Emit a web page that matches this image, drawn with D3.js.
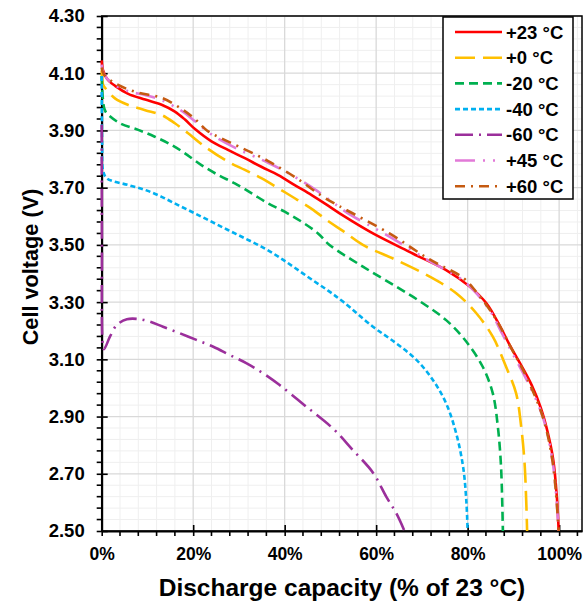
<!DOCTYPE html>
<html>
<head>
<meta charset="utf-8">
<script src="https://cdn.jsdelivr.net/npm/d3@7"></script>
<style>
  body { margin: 0; background: #fff; }
  svg { display: block; font-family: "Liberation Sans", Arial, sans-serif; font-weight: bold; }
</style>
</head>
<body>
<svg id="chart"></svg>
<script>
// discharge capacity (% of 23 °C) vs cell voltage (V)
const t23 = [[0,4.145],[0.3,4.11],[1.2,4.08],[3,4.055],[5.8,4.028],[9.5,4.008],[13.1,3.99],[16,3.966],[18.2,3.938],[20.4,3.905],[24,3.862],[27.6,3.832],[31.3,3.803],[34.9,3.773],[38.6,3.744],[42.2,3.709],[45.9,3.674],[49.5,3.637],[52.8,3.602],[59.3,3.54],[68,3.47],[75.3,3.412],[80.4,3.355],[84.1,3.296],[87,3.218],[89.2,3.15],[91.5,3.085],[94,3.01],[96,2.93],[97.5,2.845],[98.7,2.75],[99.5,2.62],[99.9,2.5]];
const t0 = [[0,4.11],[0.3,4.06],[0.7,4.05],[2.9,4.012],[5.8,3.989],[9.5,3.971],[13.1,3.954],[16,3.925],[18.9,3.89],[22.6,3.843],[27.6,3.791],[31.3,3.762],[34.9,3.733],[38.6,3.698],[42.2,3.663],[45.9,3.626],[49.8,3.58],[52.8,3.548],[57.1,3.5],[64.4,3.447],[71.7,3.389],[77.5,3.331],[81.9,3.261],[85.5,3.179],[88.4,3.074],[90.6,2.981],[91.7,2.865],[92.4,2.748],[92.8,2.608],[93,2.5]];
const tm20 = [[0,4.09],[0.2,4.02],[0.6,3.975],[1.1,3.96],[4,3.925],[8,3.902],[11.6,3.878],[15.3,3.849],[18.2,3.82],[21.8,3.779],[25.5,3.744],[29.1,3.715],[32.8,3.68],[36.4,3.645],[40,3.616],[43.7,3.581],[47.3,3.54],[49.8,3.5],[57.1,3.424],[64.4,3.354],[70.2,3.296],[75.3,3.237],[79.3,3.17],[83.3,3.074],[85.5,2.981],[86.6,2.865],[87.3,2.725],[87.7,2.5]];
const tm40 = [[0,4.09],[0.1,3.85],[0.3,3.76],[1.1,3.733],[5.8,3.709],[9.5,3.692],[13.1,3.668],[16.7,3.639],[20.4,3.61],[24,3.581],[27.6,3.552],[31.3,3.523],[34.9,3.494],[38.6,3.459],[42.2,3.42],[45.9,3.379],[49.5,3.34],[52.8,3.301],[59.3,3.214],[64.4,3.156],[68.8,3.098],[72.4,3.028],[75.3,2.946],[77.5,2.841],[79,2.725],[79.7,2.608],[80,2.5]];
const tm60 = [[0,3.92],[0.05,3.5],[0.2,3.16],[0.5,3.135],[1.8,3.179],[3.3,3.22],[5.5,3.24],[8,3.241],[10.5,3.232],[13.4,3.214],[17.1,3.191],[20.7,3.168],[24.4,3.144],[28,3.115],[31.7,3.086],[35.3,3.051],[38.9,3.01],[44.7,2.935],[50.7,2.856],[54.9,2.783],[59.3,2.704],[62.2,2.62],[64.4,2.562],[66.2,2.5]];
const t45 = [[0,4.13],[0.4,4.1],[2.2,4.065],[5.8,4.037],[9.5,4.024],[13.1,4.006],[17.5,3.968],[20.4,3.932],[24,3.886],[29.1,3.84],[36.4,3.787],[42.2,3.738],[46.6,3.694],[52.8,3.622],[54.2,3.607],[62.9,3.529],[71.7,3.443],[78.2,3.385],[81.1,3.345],[84.8,3.272],[87.7,3.185],[90.5,3.1],[93,3.025],[96.4,2.9],[98.6,2.74],[99.9,2.5]];
const t60 = [[0,4.12],[0.5,4.095],[3.6,4.059],[8,4.032],[13.1,4.014],[17.5,3.975],[20.4,3.94],[23,3.9],[26.2,3.872],[29.8,3.845],[36.4,3.793],[42.9,3.73],[48,3.672],[52,3.635],[62.9,3.54],[71.7,3.449],[79,3.385],[81.9,3.335],[86.2,3.24],[89.5,3.14],[92.8,3.04],[96.4,2.9],[98.6,2.74],[99.9,2.5]];

const seriesNames = ["+23 °C", "+0 °C", "-20 °C", "-40 °C", "-60 °C", "+45 °C", "+60 °C"];
const seriesData = [t23, t0, tm20, tm40, tm60, t45, t60];

const xMajor = [0, 20, 40, 60, 80, 100];
const yMajor = [2.5, 2.7, 2.9, 3.1, 3.3, 3.5, 3.7, 3.9, 4.1, 4.3];

// line look per series, same order as seriesNames
const colors = ["#ff0000", "#ffc000", "#00b050", "#00b0f0", "#9b2f9b", "#e27ad8", "#c55a11"];
const dashes = ["", "20,8", "9,5", "5,3", "18,6,2,6", "20,8,2,8,2,8", "10,6,2,6"];

const width = 587, height = 604;
const margin = {top: 16, right: 5, bottom: 73, left: 101.7};

const svg = d3.select("#chart").attr("width", width).attr("height", height);

const x = d3.scaleLinear().domain([0, 105]).range([margin.left, width - margin.right]);
const y = d3.scaleLinear().domain([2.5, 4.3]).range([height - margin.bottom, margin.top]);

const xMinor = d3.range(0, 105, 4).filter(v => v % 20 !== 0);
const yMinor = d3.range(0, 46).map(i => +(2.5 + i * 0.04).toFixed(2))
  .filter(v => Math.abs(((v - 2.5) / 0.2) - Math.round((v - 2.5) / 0.2)) > 1e-6);

// grid
const grid = svg.append("g");
grid.append("g").selectAll("line").data(xMinor).join("line")
  .attr("x1", d => x(d)).attr("x2", d => x(d)).attr("y1", y(2.5)).attr("y2", y(4.3))
  .attr("stroke", "#efefef").attr("stroke-width", 1);
grid.append("g").selectAll("line").data(yMinor).join("line")
  .attr("y1", d => y(d)).attr("y2", d => y(d)).attr("x1", x(0)).attr("x2", x(105))
  .attr("stroke", "#efefef").attr("stroke-width", 1);
grid.append("g").selectAll("line").data(xMajor).join("line")
  .attr("x1", d => x(d)).attr("x2", d => x(d)).attr("y1", y(2.5)).attr("y2", y(4.3))
  .attr("stroke", "#d9d9d9").attr("stroke-width", 1.3);
grid.append("g").selectAll("line").data(yMajor).join("line")
  .attr("y1", d => y(d)).attr("y2", d => y(d)).attr("x1", x(0)).attr("x2", x(105))
  .attr("stroke", "#d9d9d9").attr("stroke-width", 1.3);

// frame
svg.append("rect")
  .attr("x", x(0)).attr("y", y(4.3))
  .attr("width", x(105) - x(0)).attr("height", y(2.5) - y(4.3))
  .attr("fill", "none").attr("stroke", "#000").attr("stroke-width", 1.5);

// axes
const xAxis = d3.axisBottom(x).tickValues(xMajor).tickFormat(d => d + "%").tickSize(5).tickSizeOuter(0);
const gx = svg.append("g").attr("transform", `translate(0,${y(2.5)})`).call(xAxis);
const yAxis = d3.axisLeft(y).tickValues(yMajor).tickFormat(d3.format(".2f")).tickSize(5).tickSizeOuter(0);
const gy = svg.append("g").attr("transform", `translate(${x(0)},0)`).call(yAxis);

[gx, gy].forEach(g => {
  g.select(".domain").attr("stroke", "#000").attr("stroke-width", 2);
  g.selectAll(".tick line").attr("stroke", "#000").attr("stroke-width", 1.6);
  g.selectAll("text").attr("fill", "#000").attr("font-weight", "bold")
    .attr("font-family", "'Liberation Sans', Arial, sans-serif");
});
gx.selectAll(".tick line").attr("y1", -6);
gx.selectAll(".tick text").attr("font-size", 17.5).attr("dy", "1.22em");
gy.selectAll(".tick line").attr("x1", 6);
gy.selectAll(".tick text").attr("font-size", 18.5).attr("x", -17);

// minor ticks
gx.append("g").selectAll("line").data(xMinor).join("line")
  .attr("x1", d => x(d)).attr("x2", d => x(d)).attr("y1", 0).attr("y2", 5)
  .attr("stroke", "#000").attr("stroke-width", 1.6);
gy.append("g").selectAll("line").data(yMinor).join("line")
  .attr("y1", d => y(d)).attr("y2", d => y(d)).attr("x1", 0).attr("x2", -5)
  .attr("stroke", "#000").attr("stroke-width", 1.6);

// curves (drawn over the axis line, as in the original)
const line = d3.line()
  .x(d => x(d[0])).y(d => y(d[1]))
  .curve(d3.curveCatmullRom.alpha(0.5));

svg.append("g").selectAll("path")
  .data(seriesData)
  .join("path")
    .attr("d", line)
    .attr("fill", "none")
    .attr("stroke", (d, i) => colors[i])
    .attr("stroke-width", 2.6)
    .attr("stroke-dasharray", (d, i) => dashes[i]);

// axis titles
svg.append("text")
  .attr("x", 342).attr("y", 596)
  .attr("text-anchor", "middle").attr("font-size", 24.5)
  .text("Discharge capacity (% of 23 °C)");
svg.append("text")
  .attr("transform", "translate(38,267) rotate(-90)")
  .attr("text-anchor", "middle").attr("font-size", 21.7)
  .text("Cell voltage (V)");

// legend
const lg = svg.append("g").attr("transform", "translate(443,17)");
lg.append("rect").attr("width", 130).attr("height", 182)
  .attr("fill", "#fff").attr("stroke", "#000").attr("stroke-width", 1.5);
const rows = lg.selectAll(".row").data(seriesNames).join("g")
  .attr("transform", (d, i) => `translate(0,${15 + i * 25.7})`);
rows.append("line").attr("x1", 12).attr("x2", 59)
  .attr("stroke", (d, i) => colors[i]).attr("stroke-width", 2.6)
  .attr("stroke-dasharray", (d, i) => dashes[i]);
rows.append("text").attr("x", 63).attr("dy", "0.36em")
  .attr("font-size", 18.5).text(d => d);
</script>
</body>
</html>
